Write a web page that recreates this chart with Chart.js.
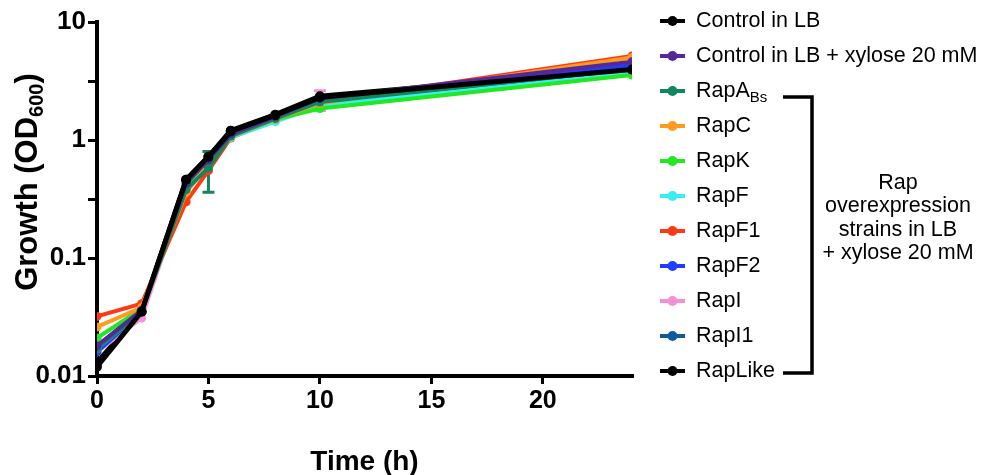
<!DOCTYPE html>
<html lang="en">
<head>
  <meta charset="UTF-8">
  <title>Growth curves</title>
  <script src="https://cdn.jsdelivr.net/npm/chart.js@4.4.1/dist/chart.umd.min.js"></script>
  <style>
    html, body { margin: 0; padding: 0; background: #fff; }
    #wrap { width: 982px; height: 475px; }
  </style>
</head>
<body>
  <div id="wrap"><canvas id="growth" width="982" height="475"></canvas></div>
  <script>
    // sampling times (h)
    var times = [0, 2, 4, 5, 6, 8, 10, 24];

    // OD600 per strain
    var controlLB  = [0.012, 0.035, 0.46, 0.72, 1.18, 1.62, 2.30, 3.95];
    var controlXyl = [0.018, 0.036, 0.43, 0.68, 1.12, 1.58, 2.25, 4.60];
    var rapABs     = [0.017, 0.035, 0.38, 0.58, 1.08, 1.52, 2.10, 4.00];
    var rapC       = [0.026, 0.038, 0.36, 0.62, 1.07, 1.50, 2.05, 5.00];
    var rapK       = [0.021, 0.037, 0.38, 0.64, 1.08, 1.50, 1.85, 3.55];
    var rapF       = [0.017, 0.035, 0.40, 0.63, 1.05, 1.43, 1.95, 3.70];
    var rapF1      = [0.032, 0.041, 0.30, 0.55, 1.04, 1.50, 2.10, 5.15];
    var rapF2      = [0.016, 0.035, 0.44, 0.66, 1.10, 1.55, 2.15, 4.30];
    var rapI       = [0.016, 0.031, 0.40, 0.65, 1.10, 1.55, 2.20, 4.20];
    var rapI1      = [0.018, 0.035, 0.42, 0.66, 1.10, 1.55, 2.15, 3.80];
    var rapLike    = [0.013, 0.035, 0.46, 0.72, 1.20, 1.64, 2.35, 4.00];

    // error bars (SD), 0 = none drawn
    var rapABsErr  = [0, 0, 0, 0.22, 0, 0, 0, 0];
    var rapIErr    = [0, 0, 0, 0, 0, 0, 0.42, 0];

    var labelMain = ['Control in LB', 'Control in LB + xylose 20 mM', 'RapA', 'RapC', 'RapK', 'RapF',
                     'RapF1', 'RapF2', 'RapI', 'RapI1', 'RapLike'];
    var labelSub  = ['', '', 'Bs', '', '', '', '', '', '', '', ''];
    var colors    = ['#000000', '#55289a', '#11875d', '#ff9a1c', '#22e822', '#38efef',
                     '#ff3a12', '#1f3cff', '#f690d6', '#0e5b99', '#000000'];
    var values    = [controlLB, controlXyl, rapABs, rapC, rapK, rapF, rapF1, rapF2, rapI, rapI1, rapLike];
    var errors    = [null, null, rapABsErr, null, null, null, null, null, rapIErr, null, null];

    var xTicks = [0, 5, 10, 15, 20];
    var yTicks = [0.01, 0.1, 0.316, 1, 3.16, 10];
    var yTickLabels = { 0.01: '0.01', 0.1: '0.1', 1: '1', 10: '10' };

    var bracketText = ['Rap', 'overexpression', 'strains in LB', '+ xylose 20 mM'];

    var FONT = '"Liberation Sans", Arial, sans-serif';

    var datasets = values.map(function (v, i) {
      var black = colors[i] === '#000000';
      return {
        label: labelMain[i] + labelSub[i],
        data: times.map(function (t, j) { return { x: t, y: v[j] }; }),
        errors: errors[i],
        borderColor: colors[i],
        backgroundColor: colors[i],
        borderWidth: black ? 5 : 4,
        pointRadius: black ? 5 : 4.5,
        pointBorderWidth: 0,
        pointBackgroundColor: colors[i],
        tension: 0
      };
    });

    // vertical error bars with caps, drawn under the lines
    var errorBars = {
      id: 'errorBars',
      beforeDatasetsDraw: function (chart) {
        var ctx = chart.ctx, x = chart.scales.x, y = chart.scales.y;
        chart.data.datasets.forEach(function (ds) {
          if (!ds.errors) return;
          ds.errors.forEach(function (e, i) {
            if (!e) return;
            var px = x.getPixelForValue(ds.data[i].x);
            var top = y.getPixelForValue(ds.data[i].y + e);
            var bot = y.getPixelForValue(ds.data[i].y - e);
            ctx.save();
            ctx.strokeStyle = ds.borderColor;
            ctx.lineWidth = 3;
            ctx.beginPath();
            ctx.moveTo(px, top); ctx.lineTo(px, bot);
            ctx.moveTo(px - 6, top); ctx.lineTo(px + 6, top);
            ctx.moveTo(px - 6, bot); ctx.lineTo(px + 6, bot);
            ctx.stroke();
            ctx.restore();
          });
        });
      }
    };

    // legend on the right, y title with subscript, bracket
    var sideDecor = {
      id: 'sideDecor',
      afterDraw: function (chart) {
        var ctx = chart.ctx;
        ctx.save();
        // legend
        for (var i = 0; i < labelMain.length; i++) {
          var ly = 21 + i * 35;
          ctx.strokeStyle = colors[i];
          ctx.fillStyle = colors[i];
          ctx.lineWidth = 4;
          ctx.beginPath(); ctx.moveTo(660, ly); ctx.lineTo(685, ly); ctx.stroke();
          ctx.beginPath(); ctx.arc(672.5, ly, 5, 0, Math.PI * 2); ctx.fill();
          ctx.fillStyle = '#000';
          ctx.textBaseline = 'middle';
          ctx.textAlign = 'left';
          ctx.font = '21.5px ' + FONT;
          ctx.fillText(labelMain[i], 696, ly);
          if (labelSub[i]) {
            var w = ctx.measureText(labelMain[i]).width;
            ctx.font = '15px ' + FONT;
            ctx.fillText(labelSub[i], 696 + w, ly + 7);
          }
        }
        // bracket
        ctx.strokeStyle = '#000';
        ctx.lineWidth = 3.5;
        ctx.beginPath();
        ctx.moveTo(783, 97); ctx.lineTo(812, 97); ctx.lineTo(812, 373); ctx.lineTo(783, 373);
        ctx.stroke();
        ctx.font = '21.5px ' + FONT;
        ctx.textAlign = 'center';
        bracketText.forEach(function (t, k) { ctx.fillText(t, 898, 183 + k * 23.5); });

        // y axis title
        ctx.translate(28, 182);
        ctx.rotate(-Math.PI / 2);
        ctx.textAlign = 'left';
        ctx.textBaseline = 'middle';
        var big = 'bold 31px ' + FONT, small = 'bold 20px ' + FONT;
        ctx.font = big;
        var w1 = ctx.measureText('Growth (OD').width, w3 = ctx.measureText(')').width;
        ctx.font = small;
        var w2 = ctx.measureText('600').width;
        var x0 = -(w1 + w2 + w3) / 2;
        ctx.font = big; ctx.fillText('Growth (OD', x0, 0);
        ctx.font = small; ctx.fillText('600', x0 + w1, 9);
        ctx.font = big; ctx.fillText(')', x0 + w1 + w2, 0);
        ctx.restore();
      }
    };

    var ctx = document.getElementById('growth');
    var growthChart = new Chart(ctx, {
      type: 'line',
      data: { datasets: datasets },
      plugins: [errorBars, sideDecor],
      options: {
        responsive: false,
        animation: false,
        layout: { padding: { top: 22, right: 350, left: 0, bottom: 0 } },
        plugins: { legend: { display: false }, tooltip: { enabled: false } },
        scales: {
          x: {
            type: 'linear', min: 0, max: 24,
            afterFit: function (s) { s.height = 99; },
            afterBuildTicks: function (s) { s.ticks = xTicks.map(function (v) { return { value: v }; }); },
            grid: { drawOnChartArea: false, color: '#000', lineWidth: 3, tickLength: 8 },
            border: { color: '#000', width: 4 },
            ticks: { color: '#000', font: { family: FONT, size: 25, weight: 'bold' }, padding: 2 },
            title: { display: true, text: 'Time (h)', color: '#000',
                     font: { family: FONT, size: 28, weight: 'bold' }, padding: { top: 0, bottom: -4 } }
          },
          y: {
            type: 'logarithmic', min: 0.01, max: 10,
            afterFit: function (s) { s.width = 97; },
            afterBuildTicks: function (s) { s.ticks = yTicks.map(function (v) { return { value: v }; }); },
            grid: { drawOnChartArea: false, color: '#000', lineWidth: 3, tickLength: 9 },
            border: { color: '#000', width: 4 },
            ticks: {
              color: '#000', font: { family: FONT, size: 26, weight: 'bold' }, padding: 2,
              callback: function (v) { return yTickLabels[v] || ''; }
            }
          }
        }
      }
    });
  </script>
</body>
</html>
